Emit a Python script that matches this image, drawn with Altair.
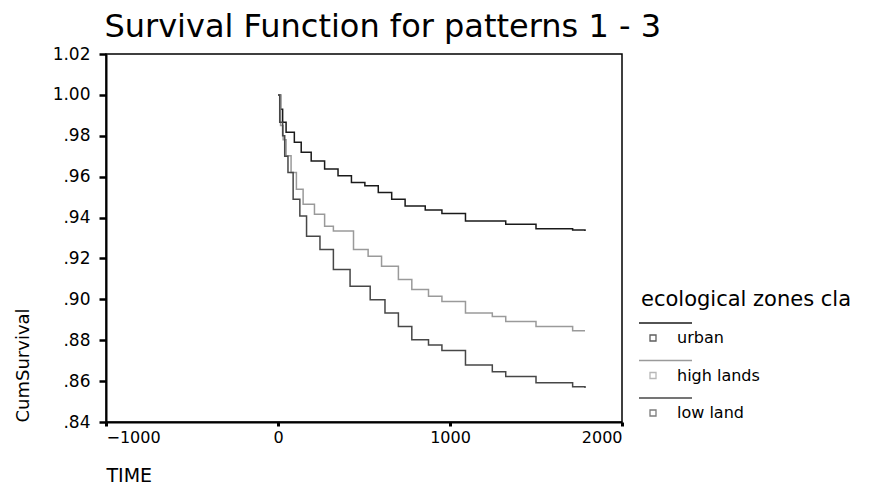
import altair as alt
import pandas as pd

FONT = "DejaVu Sans"

# ---- data -------------------------------------------------------------
categories = ["urban", "high lands", "low land"]
colors = ["#1a1a1a", "#9a9a9a", "#474747"]

urban_t = [0, 5, 15, 27, 47, 95, 135, 193, 271, 349, 427, 505, 583, 661, 739, 856, 953, 1090, 1324, 1500, 1713, 1785]
urban_s = [1.0, 1.0, 0.993, 0.9866, 0.9817, 0.9768, 0.9719, 0.9677, 0.9637, 0.9604, 0.9571, 0.9555, 0.9522, 0.9489, 0.9457, 0.9437, 0.9420, 0.9383, 0.9367, 0.9345, 0.9339, 0.9334]

high_t = [0, 5, 15, 30, 47, 76, 107, 146, 212, 271, 322, 439, 524, 602, 700, 778, 875, 953, 1090, 1246, 1324, 1500, 1704, 1713, 1785]
high_s = [1.0, 1.0, 0.985, 0.978, 0.9702, 0.962, 0.9538, 0.9465, 0.9416, 0.9358, 0.9334, 0.9244, 0.9211, 0.9162, 0.9097, 0.9048, 0.9015, 0.8990, 0.8933, 0.8916, 0.8892, 0.8867, 0.8867, 0.8846, 0.8846]

low_t = [0, 5, 10, 27, 39, 58, 88, 127, 166, 244, 322, 419, 536, 622, 700, 778, 875, 953, 1090, 1246, 1324, 1500, 1713, 1785]
low_s = [1.0, 1.0, 0.9866, 0.98, 0.970, 0.962, 0.9489, 0.9407, 0.9309, 0.9244, 0.9146, 0.9064, 0.8998, 0.8933, 0.8867, 0.8802, 0.8777, 0.8750, 0.8679, 0.8646, 0.8622, 0.8592, 0.8573, 0.8566]

x_ticks = [-1000, 0, 1000, 2000]
y_ticks = [0.84, 0.86, 0.88, 0.90, 0.92, 0.94, 0.96, 0.98, 1.00, 1.02]

title_text = "Survival Function for patterns 1 - 3"
legend_title = "ecological zones cla"

# ---- build table -------------------------------------------------------
rows = []
for cat, ts, ss in zip(categories, [urban_t, high_t, low_t], [urban_s, high_s, low_s]):
    for t, s in zip(ts, ss):
        rows.append({"zone": cat, "time": t, "survival": s})
df = pd.DataFrame(rows)

color_scale = alt.Scale(domain=categories, range=colors)

y_label_expr = ("datum.value < 1 ? substring(format(datum.value, '.2f'), 1) "
                ": format(datum.value, '.2f')")

main = alt.Chart(df).mark_line(interpolate="step-after", strokeWidth=1.5).encode(
    x=alt.X("time:Q",
            scale=alt.Scale(domain=[-1000, 2000], nice=False),
            axis=alt.Axis(values=x_ticks, format="d", title="TIME", titleAnchor="start",
                          titleFontSize=19, titleFontWeight="normal", titlePadding=21,
                          labelFontSize=16, labelPadding=3, grid=False,
                          tickSize=4, tickWidth=3, tickColor="black",
                          domainColor="black", domainWidth=2,
                          labelColor="black", titleColor="black")),
    y=alt.Y("survival:Q",
            scale=alt.Scale(domain=[0.84, 1.02], nice=False, zero=False),
            axis=alt.Axis(values=y_ticks, labelExpr=y_label_expr,
                          title="CumSurvival", titleAnchor="start",
                          titleFontSize=18, titleFontWeight="normal", titlePadding=20,
                          labelFontSize=17, labelPadding=9, grid=False,
                          tickSize=7, tickWidth=2.5, tickColor="black",
                          domainColor="black", domainWidth=2,
                          labelColor="black", titleColor="black")),
    color=alt.Color("zone:N", scale=color_scale, legend=None),
    order=alt.Order("time:Q"),
).properties(width=516, height=368)

leg_df = pd.DataFrame({"zone": categories})
title_df = pd.DataFrame({"zone": [categories[0]], "label": [legend_title]})
ybase = alt.Y("zone:N", scale=alt.Scale(type="point", domain=categories, range=[284, 359],
                                        padding=0),
              axis=None)

rules = alt.Chart(leg_df).mark_rule(strokeWidth=1.5, yOffset=-15).encode(
    y=ybase, x=alt.value(0), x2=alt.value(53),
    color=alt.Color("zone:N", scale=color_scale, legend=None))
squares = alt.Chart(leg_df).mark_point(shape="square", size=36, filled=False, strokeWidth=1.3).encode(
    y=ybase, x=alt.value(14),
    color=alt.Color("zone:N", scale=color_scale, legend=None))
labels = alt.Chart(leg_df).mark_text(align="left", baseline="middle", fontSize=16, font=FONT,
                                      color="black").encode(
    y=ybase, x=alt.value(38), text="zone:N")
ltitle = alt.Chart(title_df).mark_text(align="left", baseline="middle", fontSize=21, font=FONT,
                                        color="black", yOffset=-38).encode(
    y=ybase, x=alt.value(2), text="label:N")

legend = alt.layer(rules, squares, labels, ltitle).properties(
    width=225, height=368, view=alt.ViewBackground(strokeOpacity=0))

chart = alt.hconcat(main, legend, spacing=13).properties(
    padding={"left": 5, "top": 3, "right": 0, "bottom": 0},
    title=alt.TitleParams(title_text, anchor="start", fontSize=32, dx=91,
                          font=FONT, fontWeight="normal", color="black", offset=0),
).configure(font=FONT).configure_view(stroke="black", strokeWidth=1.5)

chart.save("out.html", embed_options={"renderer": "svg", "actions": False})
